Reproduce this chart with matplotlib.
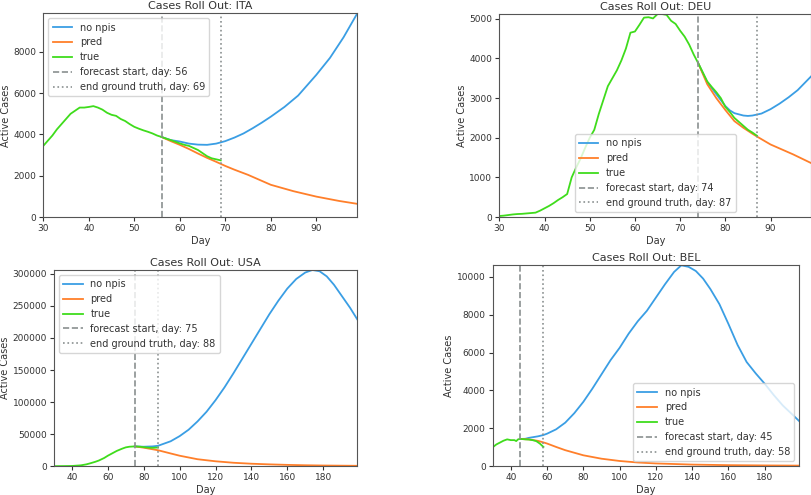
import numpy as np
import matplotlib
matplotlib.use("Agg")
import matplotlib.pyplot as plt

# colores de las series
c_nonpi = '#3a9ee4'
c_pred = '#ff7f2a'
c_true = '#3fdc1c'
c_vline = '#8a9090'

# ---------------- ITA ----------------
ita_true_dias = list(range(30, 70))
ita_true = [3450, 3700, 3950, 4250, 4500, 4750, 5000, 5150, 5300, 5300,
            5330, 5370, 5300, 5200, 5050, 4950, 4900, 4750, 4650, 4500,
            4370, 4280, 4200, 4130, 4050, 3950, 3880, 3800, 3730, 3650,
            3570, 3500, 3450, 3350, 3250, 3100, 2950, 2850, 2800, 2750]
ita_nonpi_dias = [56, 58, 60, 62, 64, 66, 68, 70, 72, 74, 76, 78, 80, 83, 86, 90, 93, 96, 99]
ita_nonpi = [3880, 3730, 3660, 3560, 3510, 3500, 3560, 3680, 3850, 4050,
             4300, 4570, 4860, 5330, 5880, 6880, 7700, 8700, 9850]
ita_pred_dias = [56, 58, 60, 62, 64, 66, 68, 70, 72, 75, 80, 85, 90, 95, 99]
ita_pred = [3880, 3680, 3500, 3300, 3080, 2870, 2680, 2480, 2300, 2050,
            1570, 1260, 1000, 790, 650]

# ---------------- DEU ----------------
deu_true_dias = list(range(30, 88))
deu_true = [25, 35, 50, 65, 75, 80, 90, 100, 110, 160,
            220, 280, 350, 430, 500, 580, 1000, 1250, 1480, 1750,
            2000, 2200, 2600, 2950, 3300, 3500, 3700, 3950, 4250, 4650,
            4680, 4850, 5030, 5040, 5010, 5120, 5120, 5100, 4950, 4870,
            4700, 4550, 4350, 4100, 3880, 3650, 3420, 3280, 3150, 3000,
            2780, 2650, 2500, 2400, 2300, 2200, 2130, 2050]
deu_nonpi_dias = [74, 76, 78, 80, 81, 82, 84, 85, 86, 88, 90, 92, 94, 96, 99]
deu_nonpi = [3880, 3400, 3100, 2800, 2690, 2620, 2560, 2550, 2560, 2610,
             2720, 2860, 3020, 3200, 3550]
deu_pred_dias = [74, 76, 78, 80, 82, 84, 86, 87, 90, 95, 99]
deu_pred = [3880, 3350, 3000, 2700, 2420, 2250, 2100, 2030, 1830, 1580, 1360]

# ---------------- USA ----------------
usa_true_dias = [30, 35, 40, 45, 48, 50, 53, 55, 58, 60, 63, 65, 68, 70, 72,
                 75, 78, 80, 83, 85, 88]
usa_true = [200, 300, 500, 1500, 3000, 4500, 7000, 9000, 13000, 16500,
            21000, 24000, 27500, 29500, 30500, 31000, 30500, 29800, 29000,
            28800, 29300]
usa_nonpi_dias = [75, 80, 85, 88, 90, 95, 100, 105, 110, 115, 120, 125, 130,
                  135, 140, 145, 150, 155, 160, 165, 170, 174, 178, 182, 186,
                  190, 195, 199]
usa_nonpi = [31000, 30500, 31000, 32000, 34000, 39000, 47000, 57000, 70000,
             85000, 103000, 123000, 145000, 168000, 191000, 214000, 237000,
             258000, 277000, 292000, 302000, 306000, 304000, 296000, 283000,
             267000, 247000, 229000]
usa_pred_dias = [75, 80, 85, 88, 95, 100, 110, 120, 130, 140, 150, 160, 170,
                 180, 190, 199]
usa_pred = [31000, 29000, 26500, 25000, 20000, 16500, 11000, 7800, 5500,
            4000, 3000, 2200, 1600, 1200, 950, 750]

# ---------------- BEL ----------------
bel_true_dias = [30, 32, 34, 36, 38, 39, 40, 42, 43, 44, 45, 46, 48, 50, 52,
                 54, 56, 58]
bel_true = [1000, 1150, 1250, 1350, 1420, 1400, 1380, 1380, 1330, 1420,
            1440, 1440, 1420, 1410, 1380, 1330, 1200, 1020]
bel_nonpi_dias = [45, 48, 50, 55, 58, 60, 65, 70, 75, 80, 85, 90, 95, 100,
                  105, 110, 115, 120, 125, 130, 134, 138, 142, 146, 150, 155,
                  160, 165, 170, 175, 180, 185, 190, 195, 199]
bel_nonpi = [1440, 1450, 1500, 1580, 1650, 1720, 1950, 2300, 2800, 3400,
             4100, 4850, 5600, 6250, 7000, 7650, 8200, 8900, 9600, 10250,
             10600, 10520, 10300, 9900, 9350, 8550, 7500, 6400, 5500, 4900,
             4350, 3750, 3200, 2750, 2380]
bel_pred_dias = [45, 50, 55, 58, 60, 65, 70, 80, 90, 100, 110, 120, 140, 160,
                 180, 199]
bel_pred = [1440, 1420, 1340, 1260, 1200, 1020, 850, 580, 400, 280, 200, 150,
            90, 60, 45, 35]

paneles = [
    ('ITA', [0.0533, 0.561, 0.3867, 0.412], ita_nonpi_dias, ita_nonpi,
     ita_pred_dias, ita_pred, ita_true_dias, ita_true, 56, 69, (30, 99),
     'upper left'),
    ('DEU', [0.615, 0.5616, 0.384, 0.410], deu_nonpi_dias, deu_nonpi,
     deu_pred_dias, deu_pred, deu_true_dias, deu_true, 74, 87, (30, 99),
     'lower center'),
    ('USA', [0.0665, 0.058, 0.3735, 0.3966], usa_nonpi_dias, usa_nonpi,
     usa_pred_dias, usa_pred, usa_true_dias, usa_true, 75, 88, (30, 199),
     'upper left'),
    ('BEL', [0.6067, 0.058, 0.3776, 0.406], bel_nonpi_dias, bel_nonpi,
     bel_pred_dias, bel_pred, bel_true_dias, bel_true, 45, 58, (30, 199),
     'lower right'),
]

fig = plt.figure(figsize=(8.12, 4.95), dpi=100)

for (pais, pos, nd, nv, pd_, pv, td, tv, inicio, fin, xlim, loc) in paneles:
    ax = fig.add_axes(pos)
    ax.plot(nd, nv, color=c_nonpi, lw=1.3, label='no npis')
    ax.plot(pd_, pv, color=c_pred, lw=1.3, label='pred')
    ax.plot(td, tv, color=c_true, lw=1.3, label='true')
    ax.axvline(inicio, color=c_vline, ls='--', lw=1.2,
               label=f'forecast start, day: {inicio}')
    ax.axvline(fin, color=c_vline, ls=':', lw=1.2,
               label=f'end ground truth, day: {fin}')
    ax.set_xlim(*xlim)
    ymax = max(max(nv), max(pv), max(tv))
    ax.set_ylim(0, ymax)
    ax.set_title(f'Cases Roll Out: {pais}', fontsize=8, color='#333333', pad=3)
    ax.set_xlabel('Day', fontsize=7, color='#333333', labelpad=2)
    ax.set_ylabel('Active Cases', fontsize=7, color='#333333', labelpad=2)
    ax.tick_params(labelsize=6.5, colors='#333333', length=3, pad=2)
    for s in ax.spines.values():
        s.set_color('#555555')
        s.set_linewidth(0.8)
    leg = ax.legend(loc=loc, fontsize=7, framealpha=0.8, handlelength=2.0,
                    borderpad=0.45, labelspacing=0.5)
    leg.get_frame().set_edgecolor('#cccccc')
    for t in leg.get_texts():
        t.set_color('#333333')

fig.savefig('out.png', dpi=100)
